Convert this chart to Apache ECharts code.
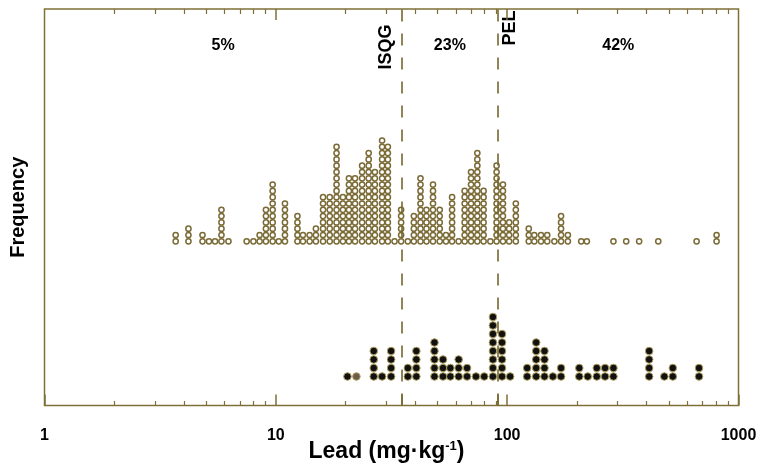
<!DOCTYPE html>
<html>
<head>
<meta charset="utf-8">
<script src="https://cdn.jsdelivr.net/npm/echarts@6/dist/echarts.min.js"></script>
<style>html,body{margin:0;padding:0;background:#fff}#c{width:762px;height:463px}</style>
</head>
<body>
<div id="c"></div>
<script>
// ---- data ----
const upperX = [3.69,4.19,4.82,5.14,5.46,5.82,6.24,7.48,8.0,8.51,9.06,9.69,10.3,10.95,12.4,13.1,14.0,14.9,16.0,17.1,18.3,19.5,20.7,22.0,23.6,25.2,26.8,28.8,30.5,32.6,34.8,37.2,39.5,42.2,44.8,47.8,51.1,54.4,57.8,61.7,65.5,69.8,74.3,79.1,84.6,90.0,95.9,102,109,124,131,140,149,160,171,183,209,221,288,327,372,450,659,804];
const upperN = [2,3,2,1,1,6,1,1,1,2,6,10,1,7,5,2,2,3,8,8,16,8,11,11,13,15,12,17,16,1,6,1,5,11,6,10,6,2,8,1,9,12,15,9,1,13,10,4,7,3,2,2,2,1,5,2,1,1,1,1,1,1,1,2];
const lowerX = [20.4,26.5,28.8,31.5,37.2,40.5,48.5,52.8,56.8,61.7,67.1,73.3,79.6,86.8,95,103,122,133.5,145,157.6,171,205,223,244,265,288,411,478,520,675];
const lowerN = [1,4,1,4,2,4,5,3,2,3,2,1,1,8,6,1,2,5,4,1,2,2,1,2,2,2,4,1,2,2];
const otherX = [22.3];
const otherN = [1];
const guideNames = ['ISQG','PEL'];
const guideValues = [35, 91.3];
const zoneLabels = ['5%','23%','42%'];
const axisMin = 1, axisMax = 1000;
const tickLabels = [1,10,100,1000];
const minorTicks = [2,3,4,5,6,7,8,9,20,30,40,50,60,70,80,90,200,300,400,500,600,700,800,900];

// ---- layout ----
const G = {left:44.5, right:23.5, top:9, bottom:57.5};
const upBase = 241.3, upStep = 6.3;
const loBase = 376.5, loStep = 8.5;
const frame = '#7f6f38';
const FF = '"Liberation Sans", Arial, sans-serif';

function stack(xs, ns){
  const out=[];
  xs.forEach((x,i)=>{for(let k=0;k<ns[i];k++) out.push([x,k]);});
  return out;
}

const chart = echarts.init(document.getElementById('c'));

const xBase = {type:'log', logBase:10, min:axisMin, max:axisMax, gridIndex:0, splitLine:{show:false}, axisLine:{show:false, onZero:false}};
chart.setOption({
  animation:false,
  grid:{left:G.left, right:G.right, top:G.top, bottom:G.bottom, show:true, borderColor:frame, borderWidth:1.5,
        backgroundColor:'transparent', containLabel:false, outerBoundsMode:'none'},
  xAxis:[
    Object.assign({}, xBase, {position:'bottom',
      axisTick:{show:true, inside:true, length:11, lineStyle:{color:frame, width:1.5}, customValues:tickLabels.concat(guideValues)},
      axisLabel:{show:true, customValues:tickLabels, margin:22, color:'#000', fontWeight:'bold', fontSize:16, fontFamily:FF,
        formatter:v=>String(Math.round(v))},
      name:'Lead (mg·kg{s|-1})', nameLocation:'middle', nameGap:34, nameMoveOverlap:false,
      nameTextStyle:{color:'#000', fontWeight:'bold', fontSize:23, fontFamily:FF, verticalAlign:'top', padding:[0,10,0,0],
        rich:{s:{fontSize:13, fontWeight:'bold', verticalAlign:'top', padding:[0,0,12,0], fontFamily:FF}}}
    }),
    Object.assign({}, xBase, {position:'bottom',
      axisTick:{show:true, inside:true, length:4.5, lineStyle:{color:frame, width:1.2}, customValues:minorTicks},
      axisLabel:{show:false}}),
    Object.assign({}, xBase, {position:'top',
      axisTick:{show:true, inside:true, length:11, lineStyle:{color:frame, width:1.5}, customValues:[10,100]},
      axisLabel:{show:false}}),
    Object.assign({}, xBase, {position:'top',
      axisTick:{show:true, inside:true, length:5, lineStyle:{color:frame, width:1.2}, customValues:minorTicks},
      axisLabel:{show:false}})
  ],
  yAxis:[
    {type:'value', gridIndex:0, min:-(463-G.bottom-upBase)/upStep, max:(upBase-G.top)/upStep,
      axisLine:{show:false}, axisTick:{show:false}, axisLabel:{show:false}, splitLine:{show:false},
      name:'Frequency', nameLocation:'middle', nameRotate:90, nameGap:16,
      nameTextStyle:{color:'#000', fontWeight:'bold', fontSize:20, fontFamily:FF}},
    {type:'value', gridIndex:0, min:-(463-G.bottom-loBase)/loStep, max:(loBase-G.top)/loStep,
      axisLine:{show:false}, axisTick:{show:false}, axisLabel:{show:false}, splitLine:{show:false}}
  ],
  series:[
    {type:'scatter', xAxisIndex:0, yAxisIndex:0, data:stack(upperX,upperN), symbol:'circle', symbolSize:5.2,
      itemStyle:{color:'#fff', borderColor:'#7a6a35', borderWidth:1.5, opacity:1}, z:3,
      markLine:{silent:true, symbol:'none', label:{show:false},
        lineStyle:{color:'#76662d', width:1.6, type:[12,12]},
        data:guideValues.map(v=>({xAxis:v}))}},
    {type:'scatter', xAxisIndex:0, yAxisIndex:1, data:stack(lowerX,lowerN), symbol:'circle', symbolSize:7.6,
      itemStyle:{color:'#111', borderColor:'#b0a060', borderWidth:1, opacity:1}, z:4},
    {type:'scatter', xAxisIndex:0, yAxisIndex:1, data:stack(otherX,otherN), symbol:'circle', symbolSize:7.6,
      itemStyle:{color:'#6b5c4c', borderColor:'#b0a060', borderWidth:1, opacity:1}, z:4}
  ]
});

// annotations positioned from the axis scale
const px = v => chart.convertToPixel({xAxisIndex:0}, v);
const bounds = [axisMin].concat(guideValues, [axisMax]);
const g = [];
zoneLabels.forEach((t,i)=>{
  const mid = Math.sqrt(bounds[i]*bounds[i+1]);
  g.push({type:'text', x:px(mid), y:46, style:{text:t, fill:'#000', font:'bold 16px '+FF, align:'center', verticalAlign:'middle'}});
});
g.push({type:'text', x:px(guideValues[0])-16, y:47, rotation:Math.PI/2,
  style:{text:guideNames[0], fill:'#000', font:'bold 18px '+FF, align:'center', verticalAlign:'middle'}});
g.push({type:'text', x:px(guideValues[1])+12, y:28, rotation:Math.PI/2,
  style:{text:guideNames[1], fill:'#000', font:'bold 18px '+FF, align:'center', verticalAlign:'middle'}});
chart.setOption({graphic:g});
</script>
</body>
</html>
